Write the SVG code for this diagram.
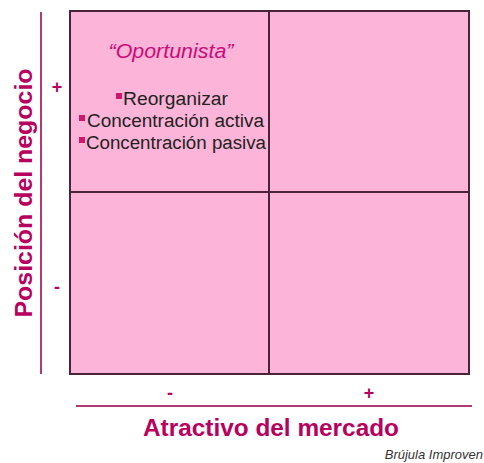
<svg xmlns="http://www.w3.org/2000/svg" width="484" height="463" viewBox="0 0 484 463">
<style>
.cell{fill:#fcb4d8;stroke:#4a2338;stroke-width:2}
.axis{stroke:#b03a78;stroke-width:2;fill:none}
.ax{font-family:"Liberation Sans",Arial,sans-serif;font-weight:bold;fill:#b8005f}
.sign{font-family:"Liberation Sans",Arial,sans-serif;font-weight:bold;font-size:18px;fill:#b8005f;text-anchor:middle}
.item{font-family:"Liberation Sans",Arial,sans-serif;font-size:18px;fill:#222}
.bul{fill:#d0176e}
</style>
<rect width="484" height="463" fill="#ffffff"/>
<g id="grid">
<rect id="q1" class="cell" x="70" y="11" width="199" height="181"/>
<rect id="q2" class="cell" x="269" y="11" width="200" height="181"/>
<rect id="q3" class="cell" x="70" y="192" width="199" height="182"/>
<rect id="q4" class="cell" x="269" y="192" width="200" height="182"/>
</g>
<g id="connectors">
<line class="axis" x1="41" y1="12" x2="41" y2="374"/>
<line class="axis" x1="76" y1="406" x2="472" y2="406"/>
</g>
<g id="labels">
<text class="ax" font-size="23" x="271" y="436" text-anchor="middle" textLength="256" lengthAdjust="spacingAndGlyphs">Atractivo del mercado</text>
<text class="ax" font-size="23" transform="translate(32,193) rotate(-90)" text-anchor="middle" textLength="249" lengthAdjust="spacingAndGlyphs">Posición del negocio</text>
<text class="sign" x="57" y="93">+</text>
<text class="sign" x="57" y="293">-</text>
<text class="sign" x="170" y="399">-</text>
<text class="sign" x="369" y="399">+</text>
<text x="483" y="459" text-anchor="end" font-family="'Liberation Sans',Arial,sans-serif" font-style="italic" font-size="13" fill="#333">Brújula Improven</text>
</g>
<g id="oportunista">
<text x="171" y="58" text-anchor="middle" font-family="'Liberation Sans',Arial,sans-serif" font-style="italic" font-size="20" fill="#cc0a78" textLength="125" lengthAdjust="spacingAndGlyphs">“Oportunista”</text>
<rect class="bul" x="116" y="93" width="6" height="6"/>
<text class="item" x="123" y="105" textLength="105" lengthAdjust="spacingAndGlyphs">Reorganizar</text>
<rect class="bul" x="79" y="115" width="6" height="6"/>
<text class="item" x="87" y="127" textLength="177" lengthAdjust="spacingAndGlyphs">Concentración activa</text>
<rect class="bul" x="79" y="137" width="6" height="6"/>
<text class="item" x="86" y="149" textLength="180" lengthAdjust="spacingAndGlyphs">Concentración pasiva</text>
</g>
</svg>
